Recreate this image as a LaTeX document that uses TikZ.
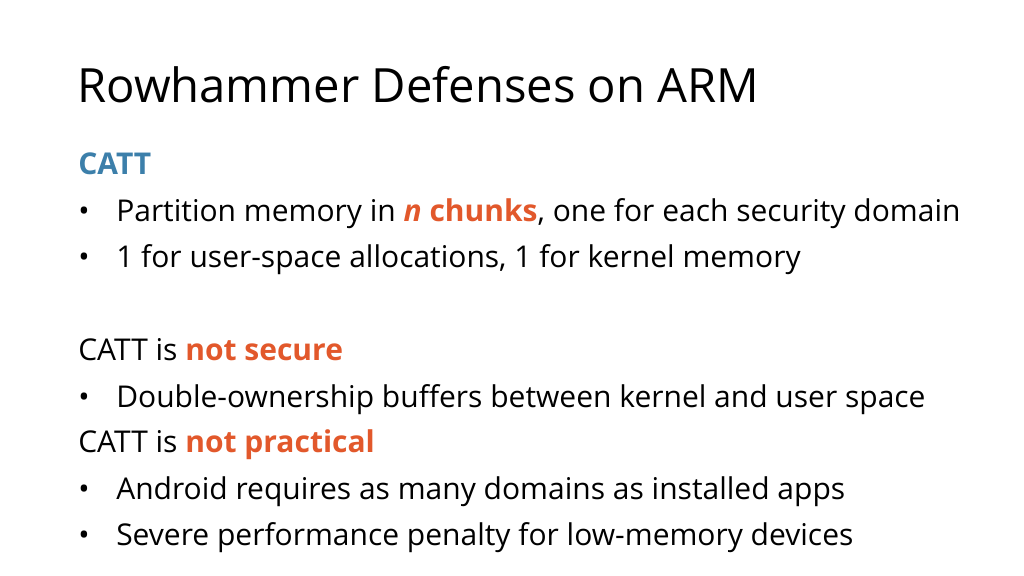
\documentclass[tikz,border=0pt]{standalone}
\usepackage{fontspec}
\setmainfont{Open Sans}
\definecolor{cblue}{HTML}{3C7FAA}
\definecolor{corange}{HTML}{E2582B}
\begin{document}
\begin{tikzpicture}[x=0.75pt,y=-0.75pt,
  txt/.style={anchor=base west,inner sep=0pt,font=\fontsize{22.5}{27}\selectfont},
  ttl/.style={anchor=base west,inner sep=0pt,font=\fontsize{35.4}{42}\selectfont}]
\useasboundingbox[fill=white] (0,0) rectangle (1024,575);
\node[ttl] (title) at (77,102) {Rowhammer Defenses on ARM};
\node[txt,text=cblue] (catt) at (78,174) {\bfseries CATT};
\node[txt] (b1) at (78,221) {•};
\node[txt] (t1) at (116,221) {Partition memory in \textcolor{corange}{\bfseries\itshape n}\textcolor{corange}{\bfseries{} chunks}, one for each security domain};
\node[txt] (b2) at (78,267) {•};
\node[txt] (t2) at (116,267) {1 for user-space allocations, 1 for kernel memory};
\node[txt] (h2) at (78,360) {CATT is \textcolor{corange}{\bfseries not secure}};
\node[txt] (b3) at (78,407) {•};
\node[txt] (t3) at (116,407) {Double-ownership buffers between kernel and user space};
\node[txt] (h3) at (78,452) {CATT is \textcolor{corange}{\bfseries not practical}};
\node[txt] (b4) at (78,499) {•};
\node[txt] (t4) at (116,499) {Android requires as many domains as installed apps};
\node[txt] (b5) at (78,545) {•};
\node[txt] (t5) at (116,545) {Severe performance penalty for low-memory devices};
\end{tikzpicture}
\end{document}
